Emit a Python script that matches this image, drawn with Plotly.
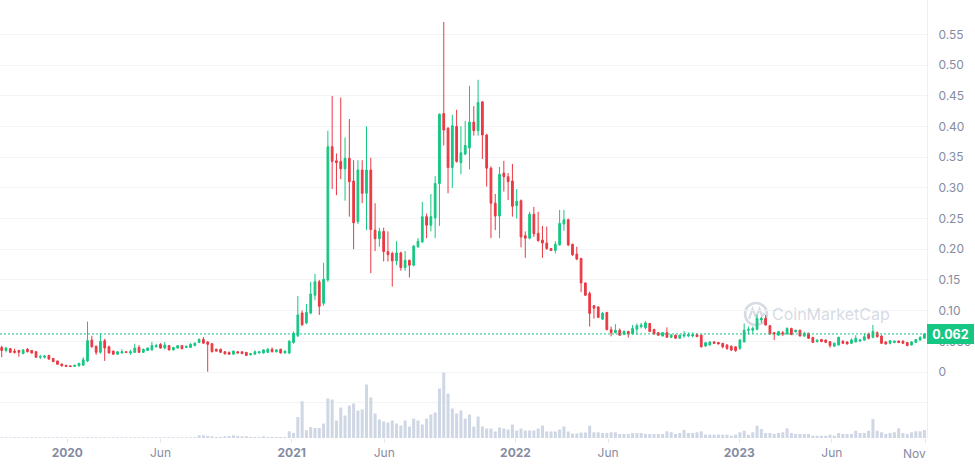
import pandas as pd
import plotly.graph_objects as go

# ---------------- data (weekly candles) ----------------
week_start = "2019-09-16"

open_ = [
    0.040, 0.035, 0.038, 0.034, 0.035, 0.030, 0.037, 0.035, 0.033, 0.024,
    0.024, 0.027, 0.022, 0.018, 0.013, 0.011, 0.010, 0.009, 0.010, 0.011,
    0.018, 0.052, 0.042, 0.032, 0.051, 0.041, 0.034, 0.029, 0.031, 0.033,
    0.031, 0.032, 0.040, 0.032, 0.035, 0.036, 0.041, 0.045, 0.039, 0.043,
    0.036, 0.039, 0.043, 0.040, 0.040, 0.043, 0.048, 0.053, 0.049, 0.046,
    0.037, 0.037, 0.033, 0.032, 0.029, 0.033, 0.033, 0.032, 0.028, 0.029,
    0.031, 0.031, 0.032, 0.037, 0.033, 0.037, 0.031, 0.031, 0.048, 0.059,
    0.096, 0.080, 0.096, 0.125, 0.147, 0.112, 0.150, 0.367, 0.344, 0.343,
    0.331, 0.348, 0.311, 0.245, 0.329, 0.291, 0.329, 0.231, 0.217, 0.229,
    0.196, 0.193, 0.181, 0.194, 0.170, 0.182, 0.174, 0.204, 0.212, 0.253,
    0.239, 0.251, 0.307, 0.421, 0.397, 0.333, 0.400, 0.341, 0.355, 0.365,
    0.407, 0.393, 0.440, 0.386, 0.332, 0.275, 0.254, 0.324, 0.318, 0.311,
    0.271, 0.279, 0.222, 0.218, 0.257, 0.226, 0.215, 0.210, 0.201, 0.198,
    0.207, 0.241, 0.248, 0.208, 0.192, 0.185, 0.145, 0.128, 0.108, 0.106,
    0.086, 0.097, 0.069, 0.064, 0.068, 0.0615, 0.066, 0.062, 0.0695, 0.0738,
    0.072, 0.079, 0.0695, 0.064, 0.0586, 0.064, 0.0565, 0.060, 0.055, 0.0586,
    0.059, 0.0586, 0.061, 0.060, 0.0423, 0.044, 0.049, 0.048, 0.0467, 0.044,
    0.042, 0.041, 0.0385, 0.049, 0.068, 0.068, 0.0695, 0.0847, 0.0875, 0.0755,
    0.064, 0.060, 0.064, 0.062, 0.071, 0.0657, 0.068, 0.0586, 0.063, 0.0565,
    0.0494, 0.053, 0.052, 0.0494, 0.042, 0.044, 0.050, 0.049, 0.0467, 0.049,
    0.0505, 0.052, 0.062, 0.0565, 0.064, 0.0586, 0.049, 0.0467, 0.048, 0.0505,
    0.0505, 0.048, 0.044, 0.048, 0.052, 0.055,
]

high = [
    0.043, 0.041, 0.039, 0.038, 0.036, 0.037, 0.039, 0.036, 0.034, 0.028,
    0.028, 0.028, 0.023, 0.0185, 0.0135, 0.0112, 0.0105, 0.012, 0.015, 0.024,
    0.082, 0.059, 0.043, 0.063, 0.054, 0.043, 0.035, 0.034, 0.037, 0.034,
    0.036, 0.046, 0.044, 0.038, 0.040, 0.049, 0.046, 0.047, 0.049, 0.044,
    0.041, 0.043, 0.043, 0.043, 0.047, 0.048, 0.055, 0.057, 0.050, 0.047,
    0.038, 0.038, 0.034, 0.033, 0.035, 0.034, 0.0335, 0.0325, 0.031, 0.035,
    0.034, 0.037, 0.039, 0.040, 0.037, 0.038, 0.035, 0.052, 0.066, 0.124,
    0.100, 0.111, 0.147, 0.160, 0.150, 0.178, 0.393, 0.4495, 0.356, 0.447,
    0.382, 0.412, 0.345, 0.345, 0.345, 0.400, 0.349, 0.275, 0.235, 0.235,
    0.229, 0.196, 0.213, 0.196, 0.197, 0.183, 0.207, 0.218, 0.277, 0.258,
    0.290, 0.319, 0.421, 0.570, 0.399, 0.419, 0.427, 0.400, 0.409, 0.466,
    0.433, 0.476, 0.441, 0.388, 0.335, 0.290, 0.334, 0.344, 0.324, 0.339,
    0.298, 0.281, 0.229, 0.261, 0.269, 0.261, 0.238, 0.237, 0.202, 0.213,
    0.264, 0.264, 0.250, 0.209, 0.204, 0.186, 0.146, 0.131, 0.109, 0.107,
    0.098, 0.098, 0.074, 0.078, 0.071, 0.068, 0.067, 0.0765, 0.079, 0.080,
    0.083, 0.080, 0.070, 0.065, 0.065, 0.0727, 0.062, 0.061, 0.061, 0.0668,
    0.0646, 0.0646, 0.063, 0.061, 0.049, 0.050, 0.050, 0.049, 0.047, 0.045,
    0.043, 0.042, 0.054, 0.079, 0.074, 0.074, 0.093, 0.090, 0.093, 0.076,
    0.065, 0.067, 0.0668, 0.0727, 0.072, 0.069, 0.069, 0.0657, 0.064, 0.057,
    0.053, 0.054, 0.053, 0.050, 0.048, 0.0575, 0.052, 0.050, 0.055, 0.060,
    0.054, 0.063, 0.064, 0.0765, 0.066, 0.060, 0.050, 0.052, 0.051, 0.051,
    0.051, 0.049, 0.050, 0.054, 0.058, 0.063,
]

low = [
    0.024, 0.032, 0.031, 0.030, 0.025, 0.029, 0.032, 0.030, 0.0235, 0.021,
    0.022, 0.020, 0.016, 0.012, 0.009, 0.0085, 0.008, 0.0085, 0.009, 0.0105,
    0.016, 0.040, 0.028, 0.030, 0.018, 0.030, 0.028, 0.028, 0.030, 0.031,
    0.028, 0.031, 0.031, 0.031, 0.034, 0.035, 0.040, 0.038, 0.037, 0.035,
    0.035, 0.038, 0.037, 0.039, 0.039, 0.042, 0.047, 0.046, 0.0005, 0.032,
    0.033, 0.031, 0.029, 0.028, 0.0285, 0.030, 0.029, 0.026, 0.027, 0.0285,
    0.030, 0.030, 0.031, 0.032, 0.032, 0.030, 0.030, 0.029, 0.046, 0.057,
    0.075, 0.078, 0.094, 0.117, 0.093, 0.108, 0.147, 0.298, 0.288, 0.314,
    0.279, 0.253, 0.200, 0.241, 0.275, 0.231, 0.161, 0.197, 0.204, 0.180,
    0.180, 0.139, 0.174, 0.165, 0.165, 0.154, 0.172, 0.202, 0.210, 0.218,
    0.229, 0.218, 0.238, 0.369, 0.291, 0.300, 0.341, 0.322, 0.353, 0.330,
    0.385, 0.385, 0.347, 0.302, 0.218, 0.231, 0.218, 0.294, 0.280, 0.253,
    0.250, 0.203, 0.186, 0.216, 0.220, 0.212, 0.186, 0.199, 0.197, 0.193,
    0.206, 0.230, 0.205, 0.189, 0.182, 0.130, 0.124, 0.074, 0.087, 0.088,
    0.085, 0.068, 0.058, 0.063, 0.059, 0.060, 0.056, 0.061, 0.061, 0.071,
    0.0695, 0.065, 0.061, 0.059, 0.058, 0.056, 0.055, 0.054, 0.054, 0.056,
    0.0565, 0.0565, 0.057, 0.040, 0.041, 0.043, 0.046, 0.045, 0.0385, 0.036,
    0.034, 0.033, 0.036, 0.048, 0.061, 0.062, 0.068, 0.080, 0.076, 0.061,
    0.052, 0.059, 0.0586, 0.061, 0.060, 0.064, 0.058, 0.057, 0.054, 0.047,
    0.048, 0.049, 0.047, 0.0396, 0.041, 0.043, 0.046, 0.045, 0.046, 0.048,
    0.049, 0.051, 0.053, 0.0548, 0.056, 0.046, 0.0445, 0.045, 0.047, 0.047,
    0.046, 0.042, 0.043, 0.047, 0.051, 0.054,
]

close = [
    0.035, 0.039, 0.032, 0.032, 0.032, 0.036, 0.033, 0.031, 0.024, 0.025,
    0.026, 0.021, 0.017, 0.0125, 0.010, 0.009, 0.009, 0.011, 0.014, 0.020,
    0.051, 0.041, 0.032, 0.050, 0.039, 0.031, 0.029, 0.033, 0.033, 0.032,
    0.033, 0.039, 0.032, 0.037, 0.039, 0.043, 0.043, 0.039, 0.044, 0.036,
    0.040, 0.043, 0.038, 0.042, 0.045, 0.047, 0.053, 0.047, 0.045, 0.033,
    0.034, 0.032, 0.0295, 0.029, 0.034, 0.031, 0.030, 0.027, 0.030, 0.033,
    0.033, 0.036, 0.037, 0.033, 0.036, 0.031, 0.034, 0.050, 0.063, 0.093,
    0.077, 0.097, 0.127, 0.147, 0.107, 0.151, 0.367, 0.343, 0.341, 0.331,
    0.348, 0.310, 0.243, 0.329, 0.291, 0.329, 0.232, 0.217, 0.229, 0.196,
    0.191, 0.181, 0.194, 0.170, 0.182, 0.174, 0.205, 0.213, 0.253, 0.239,
    0.253, 0.307, 0.420, 0.394, 0.333, 0.401, 0.343, 0.357, 0.369, 0.407,
    0.393, 0.439, 0.386, 0.332, 0.275, 0.254, 0.322, 0.318, 0.310, 0.270,
    0.278, 0.220, 0.218, 0.257, 0.225, 0.214, 0.210, 0.201, 0.198, 0.208,
    0.242, 0.248, 0.207, 0.191, 0.184, 0.145, 0.125, 0.0955, 0.104, 0.089,
    0.0955, 0.069, 0.064, 0.068, 0.060, 0.066, 0.062, 0.071, 0.0755, 0.0765,
    0.080, 0.066, 0.062, 0.060, 0.064, 0.0565, 0.060, 0.055, 0.060, 0.061,
    0.061, 0.061, 0.0575, 0.041, 0.0478, 0.049, 0.0467, 0.0456, 0.041, 0.0385,
    0.0358, 0.0347, 0.052, 0.068, 0.0695, 0.071, 0.087, 0.0875, 0.0765, 0.062,
    0.062, 0.0657, 0.062, 0.071, 0.061, 0.068, 0.0586, 0.063, 0.0548, 0.0483,
    0.052, 0.0494, 0.0483, 0.043, 0.0467, 0.0565, 0.0467, 0.0456, 0.052, 0.0548,
    0.052, 0.0575, 0.0548, 0.0657, 0.0575, 0.0467, 0.0456, 0.051, 0.0505, 0.048,
    0.0467, 0.043, 0.049, 0.053, 0.0565, 0.062,
]

# weekly traded volume (relative units)
volume = [
    0.7, 0.7, 0.6, 0.7, 0.7, 0.6, 0.7, 0.7, 0.7, 0.6,
    0.7, 0.7, 0.6, 0.7, 0.7, 0.7, 0.6, 0.7, 0.7, 0.7,
    0.8, 0.7, 0.7, 0.7, 0.7, 0.6, 0.7, 0.7, 0.7, 0.7,
    0.6, 0.7, 0.7, 0.7, 0.7, 0.6, 0.7, 0.7, 0.7, 0.7,
    0.7, 0.6, 0.7, 0.7, 0.7, 0.8, 2.7, 2.7, 2.0, 1.7,
    1.0, 1.0, 1.7, 2.0, 2.7, 2.0, 1.7, 1.7, 1.0, 1.0,
    1.0, 1.7, 1.0, 1.0, 1.0, 1.0, 1.0, 6.7, 5.0, 21.0,
    36.7, 7.7, 11.0, 10.0, 10.0, 14.5, 39.5, 38.5, 17.5, 30.5,
    22.5, 32.5, 34.5, 27.5, 28.5, 53.5, 40.5, 24.5, 18.5, 16.5,
    15.5, 17.5, 14.5, 12.5, 17.5, 11.5, 19.5, 17.5, 13.5, 19.5,
    23.5, 25.5, 49.5, 65.5, 44.5, 29.5, 24.5, 27.5, 19.5, 23.5,
    11.5, 21.5, 11.5, 9.5, 9.5, 6.5, 10.5, 9.5, 8.5, 13.5,
    7.5, 9.5, 7.5, 7.5, 7.5, 9.5, 12.5, 6.5, 6.5, 6.5,
    8.5, 11.5, 6.5, 4.5, 4.5, 5.5, 5.5, 12.3, 5.7, 5.7,
    5.0, 5.0, 5.7, 5.7, 4.0, 4.0, 4.0, 5.0, 5.0, 5.0,
    4.0, 4.0, 4.0, 4.0, 4.0, 6.7, 5.7, 4.0, 5.0, 8.0,
    5.0, 5.0, 5.7, 6.7, 3.3, 3.3, 3.3, 3.3, 3.3, 3.3,
    2.3, 3.3, 5.7, 7.3, 3.3, 5.7, 12.3, 9.0, 5.0, 5.0,
    4.0, 5.0, 5.7, 9.7, 5.0, 4.0, 4.0, 4.0, 4.0, 2.3,
    2.3, 2.3, 2.3, 3.3, 2.3, 5.0, 4.0, 4.0, 4.0, 7.3,
    5.0, 5.0, 7.3, 19.0, 7.3, 5.7, 4.0, 5.0, 5.7, 9.7,
    5.0, 4.0, 5.7, 6.7, 6.7, 8.0,
]

price_ticks = [-0.05, 0, 0.05, 0.10, 0.15, 0.20, 0.25, 0.30, 0.35, 0.40, 0.45, 0.50, 0.55]
price_tick_labels = ["", "0", "0.050", "0.10", "0.15", "0.20", "0.25", "0.30",
                     "0.35", "0.40", "0.45", "0.50", "0.55"]
date_ticks = ["2020-01-01", "2020-06-01", "2021-01-01", "2021-06-01", "2022-01-01",
              "2022-06-01", "2023-01-01", "2023-06-01", "2023-11-01"]
date_tick_labels = ["<b>2020</b>", "Jun", "<b>2021</b>", "Jun", "<b>2022</b>",
                    "Jun", "<b>2023</b>", "Jun", ""]
last_label = "Nov"
last_label_date = "2023-11-01"
last_price = 0.062

n = min(len(open_), len(high), len(low), len(close), len(volume))
dates = pd.date_range(week_start, periods=n, freq="7D")

# ---------------- styling ----------------
UP = "#16c784"
DOWN = "#ea3943"
GRID = "#f2f3f6"
TXT = "#858ca2"
WM = "rgba(150,162,185,0.40)"
FONT = "Inter, Roboto, 'Noto Sans', sans-serif"

PLOT_W, PLOT_H = 927, 438


def px(xp):
    return xp / PLOT_W


def py(yp):
    return (PLOT_H - yp) / PLOT_H


fig = go.Figure()

fig.add_trace(go.Bar(
    x=dates[:n], y=volume[:n], yaxis="y2",
    marker=dict(color="#cfd6e4", line=dict(width=0)),
    hoverinfo="skip",
))

fig.add_trace(go.Candlestick(
    x=dates[:n], open=open_[:n], high=high[:n], low=low[:n], close=close[:n],
    increasing=dict(line=dict(color=UP, width=1), fillcolor=UP),
    decreasing=dict(line=dict(color=DOWN, width=1), fillcolor=DOWN),
    whiskerwidth=0, hoverinfo="skip",
))

# watermark logo (behind data)
shapes = [
    dict(type="circle", xref="paper", yref="paper", layer="below",
         x0=px(745), x1=px(767), y0=py(325), y1=py(303),
         line=dict(color=WM, width=2.5)),
    dict(type="path", xref="paper", yref="paper", layer="below",
         path=("M {:.5f} {:.5f} L {:.5f} {:.5f} L {:.5f} {:.5f} L {:.5f} {:.5f} "
               "L {:.5f} {:.5f} L {:.5f} {:.5f}").format(
             px(749), py(319), px(752.5), py(309), px(756), py(317),
             px(759.5), py(309), px(762), py(316), px(764.5), py(313)),
         line=dict(color=WM, width=2.2)),
    # current price dotted line
    dict(type="line", xref="paper", yref="y", x0=0, x1=1,
         y0=last_price, y1=last_price,
         line=dict(color=UP, width=1, dash="2px,2px")),
]

annotations = [
    dict(text="CoinMarketCap", xref="paper", yref="paper",
         x=px(831), y=py(314), xanchor="center", yanchor="middle",
         showarrow=False, font=dict(family=FONT, size=16, color=WM)),
    dict(text="<b>{:.3f}</b>".format(last_price), xref="paper", yref="y",
         x=1, y=last_price, xanchor="left", yanchor="middle",
         showarrow=False, bgcolor=UP, borderpad=2, borderwidth=0,
         width=43, height=16, align="center",
         font=dict(family=FONT, size=12.5, color="white")),
    dict(text=last_label, xref="x", yref="paper", x=last_label_date, y=0,
         xanchor="right", yanchor="top", xshift=2, yshift=-6, showarrow=False,
         font=dict(family=FONT, size=12, color=TXT)),
]

fig.update_layout(
    width=975, height=465,
    margin=dict(l=0, r=48, t=0, b=27),
    paper_bgcolor="white", plot_bgcolor="white",
    showlegend=False, hovermode=False,
    bargap=0.3, boxgap=0.42,
    font=dict(family=FONT, size=12, color=TXT),
    xaxis=dict(
        type="date",
        range=["2019-09-13 05:30", "2023-11-03 05:00"],
        rangeslider=dict(visible=False),
        tickmode="array", tickvals=date_ticks, ticktext=date_tick_labels,
        ticks="outside", ticklen=4, tickcolor="#e3e6ec", tickwidth=1,
        showgrid=False, zeroline=False, showline=False,
        tickfont=dict(family=FONT, size=12, color=TXT),
        fixedrange=True,
    ),
    yaxis=dict(
        side="right",
        range=[-0.1075, 0.6059],
        tickmode="array", tickvals=price_ticks, ticktext=price_tick_labels,
        showgrid=True, gridcolor=GRID, gridwidth=1,
        zeroline=False, showline=True, linecolor="#eceef2", linewidth=1,
        ticks="", ticklabelstandoff=8,
        tickfont=dict(family=FONT, size=12, color=TXT),
        fixedrange=True,
    ),
    yaxis2=dict(overlaying="y", range=[0, PLOT_H], visible=False, fixedrange=True),
    shapes=shapes,
    annotations=annotations,
)

fig.write_html("out.html", config={"displayModeBar": False, "staticPlot": True})
